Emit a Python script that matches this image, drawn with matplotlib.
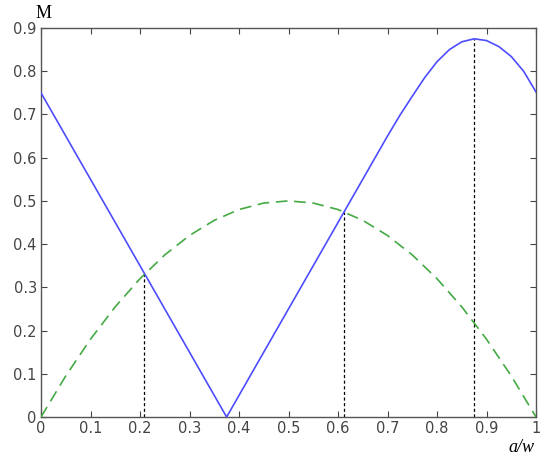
import matplotlib
matplotlib.use("Agg")
import matplotlib.pyplot as plt

# Data
blue_x = [0.0, 0.375, 0.7, 0.725, 0.75, 0.775, 0.8, 0.825, 0.85, 0.875,
          0.9, 0.925, 0.95, 0.975, 1.0]
blue_y = [0.75, 0.0, 0.65, 0.698, 0.742, 0.785, 0.822, 0.85, 0.868, 0.875,
          0.871, 0.857, 0.834, 0.800, 0.752]

green_x = [0.0, 0.05, 0.1, 0.15, 0.2, 0.25, 0.3, 0.35, 0.4, 0.45, 0.5,
           0.55, 0.6, 0.65, 0.7, 0.75, 0.8, 0.85, 0.9, 0.95, 1.0]
green_y = [0.0, 0.095, 0.18, 0.255, 0.32, 0.375, 0.42, 0.455, 0.48, 0.495, 0.5,
           0.495, 0.48, 0.455, 0.42, 0.375, 0.32, 0.255, 0.18, 0.095, 0.0]

guide_x = [0.209, 0.612, 0.875]
guide_top = [0.331, 0.475, 0.875]

xticks = [0, 0.1, 0.2, 0.3, 0.4, 0.5, 0.6, 0.7, 0.8, 0.9, 1]
xticklabels = ["0", "0.1", "0.2", "0.3", "0.4", "0.5", "0.6", "0.7", "0.8", "0.9", "1"]
yticks = [0, 0.1, 0.2, 0.3, 0.4, 0.5, 0.6, 0.7, 0.8, 0.9]
yticklabels = ["0", "0.1", "0.2", "0.3", "0.4", "0.5", "0.6", "0.7", "0.8", "0.9"]

fig = plt.figure(figsize=(5.5, 4.67), dpi=100)
ax = fig.add_axes([41/550, 50/467, 495/550, 389/467])

ax.plot(blue_x, blue_y, color="#4d4dff", lw=1.2, zorder=3)
ax.plot(green_x, green_y, color="#44aa44", lw=1.2, dashes=(7, 4), zorder=3)
for gx, gt in zip(guide_x, guide_top):
    ax.plot([gx, gx], [0, gt], color="black", lw=0.9, dashes=(2.5, 2), zorder=2)

ax.set_xlim(0, 1)
ax.set_ylim(0, 0.9)
ax.set_xticks(xticks)
ax.set_xticklabels(xticklabels)
ax.set_yticks(yticks)
ax.set_yticklabels(yticklabels)
ax.tick_params(direction="in", top=True, right=True, length=4, width=0.8,
               colors="#444444", labelsize=10.5, labelcolor="#444444", pad=3)
for s in ax.spines.values():
    s.set_color("#555555")
    s.set_linewidth(1.0)

fig.text(36/550, 1 - 14/467, "M", family="Liberation Serif", fontsize=13,
         ha="left", va="center", color="black")
fig.text(534/550, 1 - 447/467, "a/w", family="Liberation Serif", style="italic",
         fontsize=13, ha="right", va="center", color="black")

fig.savefig("out.png", dpi=100)
